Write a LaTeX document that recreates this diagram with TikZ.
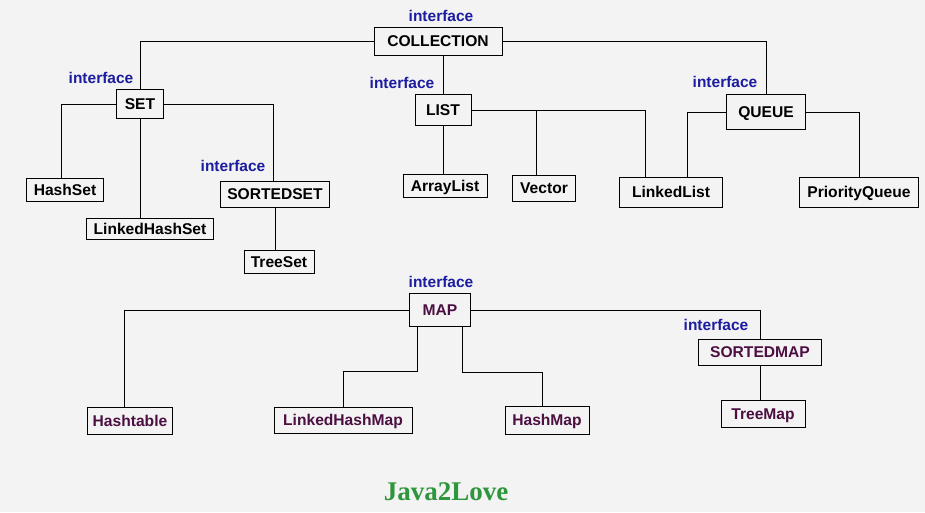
\documentclass[tikz,border=0pt]{standalone}
\usepackage{fontspec}
\setmainfont{Liberation Sans}
\newfontfamily\logofont{Liberation Serif}
\definecolor{bg}{RGB}{243,243,243}
\definecolor{ifaceblue}{RGB}{28,28,160}
\definecolor{mapink}{RGB}{75,15,65}
\definecolor{logogreen}{RGB}{46,150,60}
\begin{document}
\begin{tikzpicture}[x=1pt, y=-1pt]
  \tikzstyle{cls}=[rectangle, draw, line width=1pt, fill=bg, inner sep=0pt,
                   font=\fontsize{15.6}{18}\selectfont\bfseries, text height=11pt, text depth=0pt]
  \tikzstyle{mapcls}=[cls, text=mapink]
  \tikzstyle{iface}=[font=\fontsize{15.5}{18}\selectfont\bfseries, text=ifaceblue]
  \tikzstyle{link}=[line width=1pt]
  \useasboundingbox[fill=bg] (0,0) rectangle (925,512);

  \node[cls, minimum width=128pt, minimum height=28pt] (coll) at (438,41) {COLLECTION};
  \node[cls, minimum width=47pt, minimum height=29pt] (set) at (140,104) {SET};
  \node[cls, minimum width=77pt, minimum height=23pt] (hashset) at (65,190) {HashSet};
  \node[cls, minimum width=127pt, minimum height=21pt] (lhset) at (150,229) {LinkedHashSet};
  \node[cls, minimum width=109pt, minimum height=26pt] (sortedset) at (275,194) {SORTEDSET};
  \node[cls, minimum width=70pt, minimum height=23pt] (treeset) at (279,262) {TreeSet};
  \node[cls, minimum width=56pt, minimum height=31pt] (list) at (443,110) {LIST};
  \node[cls, minimum width=84pt, minimum height=23pt] (arraylist) at (445,186) {ArrayList};
  \node[cls, minimum width=63pt, minimum height=26pt] (vector) at (544,188) {Vector};
  \node[cls, minimum width=103pt, minimum height=30pt] (linkedlist) at (671,192) {LinkedList};
  \node[cls, minimum width=79pt, minimum height=35pt] (queue) at (766,112) {QUEUE};
  \node[cls, minimum width=119pt, minimum height=30pt] (pqueue) at (859,192) {PriorityQueue};

  \node[mapcls, minimum width=61pt, minimum height=33pt] (map) at (440,310) {MAP};
  \node[mapcls, minimum width=85pt, minimum height=27pt] (hashtable) at (130,421) {Hashtable};
  \node[mapcls, minimum width=138pt, minimum height=26pt] (lhmap) at (343,420) {LinkedHashMap};
  \node[mapcls, minimum width=84pt, minimum height=28pt] (hashmap) at (547,420) {HashMap};
  \node[mapcls, minimum width=123pt, minimum height=26pt] (sortedmap) at (760,352) {SORTEDMAP};
  \node[mapcls, minimum width=84pt, minimum height=27pt] (treemap) at (763,414) {TreeMap};

  \node[iface] (ifcoll) at (441,16) {interface};
  \node[iface] (ifset) at (101,78) {interface};
  \node[iface] (ifsortedset) at (233,166) {interface};
  \node[iface] (iflist) at (402,83) {interface};
  \node[iface] (ifqueue) at (725,82) {interface};
  \node[iface] (ifmap) at (441,282) {interface};
  \node[iface] (ifsortedmap) at (716,325) {interface};

  \node[font=\logofont\fontsize{27}{30}\selectfont\bfseries, text=logogreen] (logo) at (446,492) {Java2Love};

  \draw[link] (coll.west) -| (set.north);
  \draw[link] (coll.east) -| (queue.north);
  \draw[link] (list.north) -- (list.north |- coll.south);
  \draw[link] (set.west) -| ([xshift=-4pt]hashset.north);
  \draw[link] (set.south) -- (set.south |- lhset.north);
  \draw[link] (set.east) -| ([xshift=-2pt]sortedset.north);
  \draw[link] (sortedset.south) -- (sortedset.south |- treeset.north);
  \draw[link] (list.south) -- (list.south |- arraylist.north);
  \draw[link] (list.east) -| ([xshift=-8pt]vector.north);
  \draw[link] (list.east) -| ([xshift=-26pt]linkedlist.north);
  \draw[link] (queue.west) -| ([xshift=16pt]linkedlist.north);
  \draw[link] (queue.east) -| (pqueue.north);
  \draw[link] (map.west) -| ([xshift=-6pt]hashtable.north);
  \draw[link] (map.east) -| (sortedmap.north);
  \draw[link] ([xshift=8pt]map.south west) -- ++(0,44) -| (lhmap.north);
  \draw[link] ([xshift=-9pt]map.south east) -- ++(0,45) -| ([xshift=-5pt]hashmap.north);
  \draw[link] (sortedmap.south) -- (sortedmap.south |- treemap.north);
\end{tikzpicture}
\end{document}
